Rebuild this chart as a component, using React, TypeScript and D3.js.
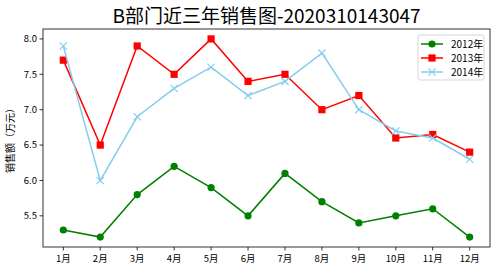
import React from "react";
import * as d3 from "d3";

const months = ["1月", "2月", "3月", "4月", "5月", "6月", "7月", "8月", "9月", "10月", "11月", "12月"];
const sales2012 = [5.3, 5.2, 5.8, 6.2, 5.9, 5.5, 6.1, 5.7, 5.4, 5.5, 5.6, 5.2];
const sales2013 = [7.7, 6.5, 7.9, 7.5, 8.0, 7.4, 7.5, 7.0, 7.2, 6.6, 6.65, 6.4];
const sales2014 = [7.9, 6.0, 6.9, 7.3, 7.6, 7.2, 7.4, 7.8, 7.0, 6.7, 6.6, 6.3];
const yTicks = [5.5, 6.0, 6.5, 7.0, 7.5, 8.0];
const seriesNames = ["2012年", "2013年", "2014年"];
const title = "B部门近三年销售图-2020310143047";
const yLabel = "销售额（万元）";

const W = 496, H = 270;
const L = 43, R = 490, T = 29, B = 247;
const FONT = "'Noto Sans CJK SC', 'DejaVu Sans', sans-serif";

export default function App() {
  const x = d3.scaleLinear().domain([0.45, 12.55]).range([L, R]);
  const y = d3.scaleLinear().domain([5.06, 8.14]).range([B, T]);
  const line = d3.line<number>().x((_, i) => x(i + 1)).y((d) => y(d));
  const series = [
    { name: seriesNames[0], data: sales2012, color: "green", marker: "circle" },
    { name: seriesNames[1], data: sales2013, color: "red", marker: "square" },
    { name: seriesNames[2], data: sales2014, color: "skyblue", marker: "x" },
  ];
  const marker = (m: string, cx: number, cy: number, color: string, key: any) => {
    if (m === "circle") return <circle key={key} cx={cx} cy={cy} r={3.6} fill={color} />;
    if (m === "square") return <rect key={key} x={cx - 3.6} y={cy - 3.6} width={7.2} height={7.2} fill={color} />;
    const s = 3.6;
    return (
      <path key={key} d={`M${cx - s},${cy - s}L${cx + s},${cy + s}M${cx - s},${cy + s}L${cx + s},${cy - s}`} stroke={color} strokeWidth={1.2} fill="none" />
    );
  };
  return (
    <svg width={W} height={H} style={{ position: "absolute", left: 0, top: 0, background: "#fff" }} fontFamily={FONT}>
      <rect x={0} y={0} width={W} height={H} fill="#fff" />
      <text x={(L + R) / 2} y={23} textAnchor="middle" fontSize={19} fill="#000">{title}</text>
      {series.map((s) => (
        <g key={s.name}>
          <path d={line(s.data) || ""} fill="none" stroke={s.color} strokeWidth={1.5} />
          {s.data.map((d, i) => marker(s.marker, x(i + 1), y(d), s.color, i))}
        </g>
      ))}
      <rect x={L} y={T} width={R - L} height={B - T} fill="none" stroke="#000" strokeWidth={0.8} />
      {yTicks.map((t) => (
        <g key={t}>
          <line x1={L - 3.5} x2={L} y1={y(t)} y2={y(t)} stroke="#000" strokeWidth={0.8} />
          <text x={L - 6} y={y(t)} dy="0.35em" textAnchor="end" fontSize={9.5} fill="#000">{t.toFixed(1)}</text>
        </g>
      ))}
      {months.map((m, i) => (
        <g key={m}>
          <line x1={x(i + 1)} x2={x(i + 1)} y1={B} y2={B + 3.5} stroke="#000" strokeWidth={0.8} />
          <text x={x(i + 1)} y={B + 15} textAnchor="middle" fontSize={9.5} fill="#000">{m}</text>
        </g>
      ))}
      <text transform={`translate(14,${(T + B) / 2}) rotate(-90)`} textAnchor="middle" fontSize={10} fill="#000">{yLabel}</text>
      <g>
        <rect x={418} y={35} width={66} height={45} rx={2} fill="#fff" fillOpacity={0.8} stroke="#ccc" strokeWidth={0.8} />
        {series.map((s, i) => {
          const cy = 44 + i * 14;
          return (
            <g key={s.name}>
              <line x1={421} x2={443} y1={cy} y2={cy} stroke={s.color} strokeWidth={1.5} />
              {marker(s.marker, 432, cy, s.color, "m")}
              <text x={451} y={cy} dy="0.35em" fontSize={10} fill="#000">{s.name}</text>
            </g>
          );
        })}
      </g>
    </svg>
  );
}
